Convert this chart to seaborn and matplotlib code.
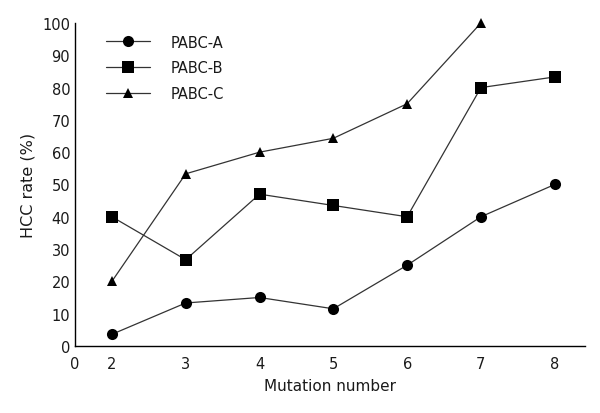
import pandas as pd
import numpy as np
import seaborn as sns
import matplotlib.pyplot as plt

mutations = [2, 3, 4, 5, 6, 7, 8]
pabc_a = [3.6, 13.3, 15, 11.5, 25, 40, 50]
pabc_b = [40, 26.7, 47, 43.5, 40, 80, 83.3]
pabc_c = [20, 53.3, 60, 64.3, 75, 100, np.nan]
series_names = ['PABC-A', 'PABC-B', 'PABC-C']
x_tick_labels = ['0', '2', '3', '4', '5', '6', '7', '8']
y_ticks = [0, 10, 20, 30, 40, 50, 60, 70, 80, 90, 100]

rows = []
for name, vals in zip(series_names, [pabc_a, pabc_b, pabc_c]):
    for m, v in zip(mutations, vals):
        if not np.isnan(v):
            rows.append({'Mutation number': m, 'HCC rate (%)': v, 'Series': name})
df = pd.DataFrame(rows)

sns.set_style('white')
plt.rcParams['font.family'] = ['DejaVu Sans']
plt.rcParams['text.color'] = '#1a1a1a'

fig = plt.figure(figsize=(6, 4.14), dpi=100)
ax = fig.add_axes([0.125, 0.162, 0.85, 0.78])

sns.lineplot(data=df, x='Mutation number', y='HCC rate (%)', hue='Series', style='Series',
             markers={'PABC-A': 'o', 'PABC-B': 's', 'PABC-C': '^'}, dashes=False,
             palette={'PABC-A': 'black', 'PABC-B': 'black', 'PABC-C': 'black'},
             markersize=8, linewidth=0.9, markeredgewidth=0, ax=ax)

for line in ax.lines:
    line.set_color('#333333')
    line.set_markerfacecolor('black')
    line.set_markeredgecolor('black')
    if line.get_marker() == '^':
        line.set_markersize(7)
    line.set_clip_on(False)

ax.set_xlim(1.5, 8.41)
ax.set_ylim(0, 100)
ax.set_xticks([1.5] + mutations)
ax.set_xticklabels(x_tick_labels)
ax.set_yticks(y_ticks)
ax.tick_params(axis='both', direction='in', length=5, width=1, labelsize=10.5,
               color='black', labelcolor='#1a1a1a')
ax.tick_params(axis='x', pad=7)
ax.xaxis.get_major_ticks()[0].tick1line.set_visible(False)

for s in ['top', 'right']:
    ax.spines[s].set_visible(False)
for s in ['left', 'bottom']:
    ax.spines[s].set_color('black')
    ax.spines[s].set_linewidth(1)

ax.set_xlabel('Mutation number', fontsize=11, labelpad=5, color='#1a1a1a')
ax.set_ylabel('HCC rate (%)', fontsize=11.5, labelpad=5, color='#1a1a1a')

leg = ax.legend(title=None, loc='upper left', bbox_to_anchor=(0.035, 1.005), frameon=False,
                fontsize=10.5, handlelength=3.0, handletextpad=1.4, labelspacing=0.75)

fig.savefig('out.png', dpi=100)
